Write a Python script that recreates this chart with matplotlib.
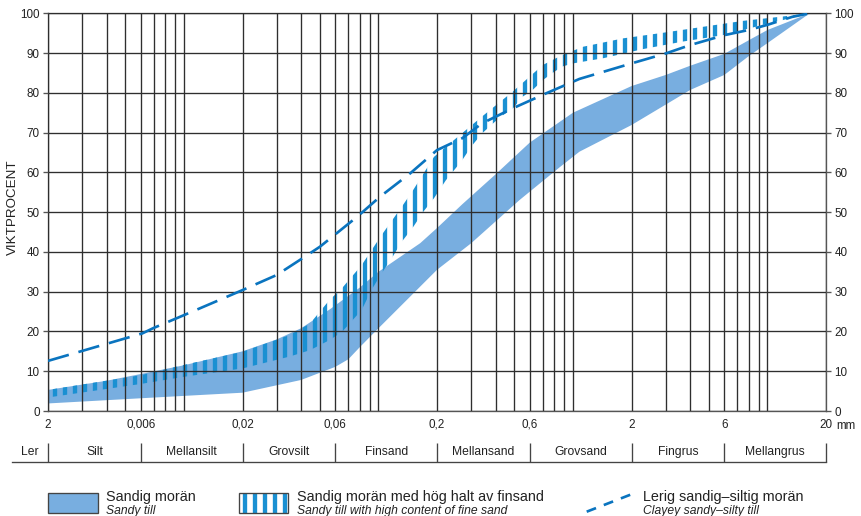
import numpy as np
import matplotlib
matplotlib.use('Agg')
import matplotlib.pyplot as plt
from matplotlib.patches import Rectangle
from matplotlib.lines import Line2D
from matplotlib.ticker import NullFormatter

# ---------------- data (grain size in mm, cumulative weight %) ----------------
sandy_upper_d = [0.002, 0.004, 0.006, 0.01, 0.02, 0.03, 0.04, 0.056, 0.08, 0.1, 0.164, 0.2, 0.27,
                 0.4, 0.6, 1.0, 2, 3, 4, 6, 8, 10, 16.5]
sandy_upper_pct = [5.3, 7.6, 9.3, 11.5, 15, 18, 20.8, 25.5, 31, 35, 42.2, 46, 52,
                   59.5, 67.5, 75, 81.7, 84.5, 86.8, 89.8, 93.2, 95.8, 100]
sandy_lower_d = [0.002, 0.006, 0.01, 0.02, 0.04, 0.06, 0.07, 0.08, 0.1, 0.2, 0.3, 0.53, 0.86,
                 1.08, 2, 4, 6, 8, 10, 16.5]
sandy_lower_pct = [1.9, 3.2, 3.8, 4.6, 7.8, 11.1, 13, 16, 20.8, 35.5, 42.2, 53, 61.4,
                   65.2, 71.9, 80.7, 84.5, 89.2, 92.5, 100]

fine_upper_d = [0.002, 0.006, 0.01, 0.02, 0.035, 0.0445, 0.056, 0.065, 0.082, 0.104, 0.132, 0.151,
                0.193, 0.27, 0.34, 0.49, 0.70, 0.88, 1.13, 1.81, 2.9, 4.66, 7.49, 12, 16.5]
fine_upper_pct = [5.3, 9.0, 11.6, 14.9, 19.1, 22, 27.9, 30.9, 36.7, 44.3, 51.4, 55.6,
                  63.9, 69.9, 74, 80.3, 87, 89.5, 91.6, 93.7, 95.1, 96.6, 98.1, 99.2, 100]
fine_lower_d = [0.002, 0.006, 0.01, 0.02, 0.035, 0.0445, 0.0564, 0.065, 0.082, 0.092, 0.104, 0.117,
                0.132, 0.151, 0.17, 0.193, 0.222, 0.269, 0.30, 0.341, 0.38, 0.425, 0.49, 0.55,
                0.62, 0.70, 0.78, 0.88, 1.0, 1.43, 2.29, 3.68, 5.9, 9.5, 12, 16.5]
fine_lower_pct = [3.4, 6.8, 8.6, 10.7, 13.7, 15.3, 17.9, 19.9, 25.4, 30.4, 34.7, 38.4,
                  42.6, 46.3, 50.1, 53.5, 58, 63, 66.5, 69.8, 71.9, 74, 76, 79,
                  80.7, 83.2, 84.9, 86.6, 87.4, 88.7, 91, 92.9, 94.5, 97.1, 98.3, 100]

clayey_d = [0.002, 0.0061, 0.007, 0.01, 0.02, 0.03, 0.0395, 0.05, 0.078, 0.102, 0.146, 0.2, 0.27,
            0.34, 0.49, 0.73, 1.08, 2, 3, 4, 6, 8, 10, 13.4, 16.5]
clayey_pct = [12.6, 19.5, 20.9, 24.1, 30.4, 34.2, 38, 41.3, 48.9, 53.9, 59.8, 65.6, 68.6,
              72.3, 76.1, 79.9, 83.5, 87.4, 89.9, 92, 94.5, 95.8, 97.1, 99.1, 100]

xtick_values = [0.002, 0.006, 0.02, 0.06, 0.2, 0.6, 2, 6, 20]
xtick_labels = ['2', '0,006', '0,02', '0,06', '0,2', '0,6', '2', '6', '20']
ytick_values = list(range(0, 101, 10))

frac_bounds = [0.0013, 0.002, 0.006, 0.02, 0.06, 0.2, 0.6, 2, 6, 20]
frac_names = ['Ler', 'Silt', 'Mellansilt', 'Grovsilt', 'Finsand', 'Mellansand',
              'Grovsand', 'Fingrus', 'Mellangrus']

legend_titles = ['Sandig morän', 'Sandig morän med hög halt av finsand', 'Lerig sandig–siltig morän']
legend_subtitles = ['Sandy till', 'Sandy till with high content of fine sand', 'Clayey sandy–silty till']

# ---------------- style ----------------
SOLID = '#78aee0'
STRIPE = '#1a90d2'
DASH = '#0a74bf'
GRID = '#2e2e2e'
SPINE = '#555555'
TXT = '#222222'

plt.rcParams['font.family'] = ['Liberation Sans', 'DejaVu Sans']
plt.rcParams['hatch.linewidth'] = 2.6
plt.rcParams['lines.scale_dashes'] = False

DPI = 120
W, H = 861, 516
fig = plt.figure(figsize=(W / DPI, H / DPI), dpi=DPI)
ax = fig.add_axes([48 / W, (H - 411) / H, (826 - 48) / W, (411 - 13.3) / H])
ax.set_xscale('log')

# solid band
sx = np.r_[np.array(sandy_upper_d), np.array(sandy_lower_d)[::-1]]
sy = np.r_[np.array(sandy_upper_pct), np.array(sandy_lower_pct)[::-1]]
ax.fill(sx, sy, facecolor=SOLID, edgecolor='none', lw=0, zorder=1)

# striped band
fx = np.r_[np.array(fine_upper_d), np.array(fine_lower_d)[::-1]]
fy = np.r_[np.array(fine_upper_pct), np.array(fine_lower_pct)[::-1]]
ax.fill(fx, fy, facecolor='none', edgecolor=STRIPE, hatch='||', lw=0, zorder=1.2)

# dashed curve
ax.plot(clayey_d, clayey_pct, color=DASH, lw=1.6, dashes=(13, 6), zorder=3,
        solid_capstyle='butt', dash_capstyle='butt')

ax.set_xlim(0.002, 20)
ax.set_ylim(0, 100)

minor = []
for e in range(-3, 2):
    for k in range(1, 10):
        v = k * 10.0 ** e
        if 0.002 <= v <= 10 and not any(np.isclose(v, m) for m in xtick_values):
            minor.append(v)
ax.set_xticks(xtick_values)
ax.set_xticklabels(xtick_labels)
ax.set_xticks(minor, minor=True)
ax.xaxis.set_minor_formatter(NullFormatter())
ax.set_yticks(ytick_values)

ax.set_axisbelow(False)
ax.grid(True, which='both', axis='x', color=GRID, lw=0.8)
ax.grid(True, which='major', axis='y', color=GRID, lw=0.8)
ax.tick_params(axis='x', which='both', length=0, pad=4.5, labelsize=7, colors=TXT)
ax.tick_params(axis='y', length=2.8, width=0.8, color=SPINE, labelsize=7, pad=2.2,
               left=True, right=True, labelleft=True, labelright=True, labelcolor=TXT)
for s in ax.spines.values():
    s.set_color(SPINE)
    s.set_linewidth(0.8)

ax.annotate('mm', xy=(20, 0), xycoords=ax.get_xaxis_transform(), xytext=(10, -18.3),
            textcoords='offset pixels', ha='left', va='baseline', fontsize=7, color=TXT)

# fraction bar
xt = ax.get_xaxis_transform()
ax.plot([frac_bounds[0], frac_bounds[-1]], [-0.1275, -0.1275], transform=xt, clip_on=False,
        color='#444444', lw=0.8)
ax.vlines(frac_bounds[1:], -0.1275, -0.0797, transform=xt, clip_on=False, color='#444444', lw=0.8)
for i, name in enumerate(frac_names):
    xc = np.sqrt(frac_bounds[i] * frac_bounds[i + 1])
    ax.text(xc, -0.104, name, transform=xt, ha='center', va='center', fontsize=7.3, color=TXT)

ax.set_xlim(0.002, 20)
ax.set_ylim(0, 100)

fig.text(12.5 / W, 1 - 207.5 / H, 'VIKTPROCENT', rotation=90, ha='center', va='center',
         fontsize=8, color=TXT)

# legend
ytop, ybot = 492.7, 512.7
fig.add_artist(Rectangle((48 / W, 1 - ybot / H), 50 / W, (ybot - ytop) / H, transform=fig.transFigure,
                         facecolor=SOLID, edgecolor='#444444', lw=0.8))
fig.add_artist(Rectangle((239 / W, 1 - ybot / H), 49 / W, (ybot - ytop) / H, transform=fig.transFigure,
                         facecolor='white', edgecolor=STRIPE, hatch='||', lw=0))
fig.add_artist(Rectangle((239 / W, 1 - ybot / H), 49 / W, (ybot - ytop) / H, transform=fig.transFigure,
                         facecolor='none', edgecolor='#444444', lw=0.8))
fig.add_artist(Line2D([586.7 / W, 634 / W], [1 - 511.7 / H, 1 - 493.3 / H], transform=fig.transFigure,
                      color=DASH, lw=1.6, dashes=(6, 5)))

for xpos, t1, t2 in zip([106, 297, 643], legend_titles, legend_subtitles):
    fig.text(xpos / W, 1 - 500.8 / H, t1, ha='left', va='baseline', fontsize=8.6, color=TXT)
    fig.text(xpos / W, 1 - 513.8 / H, t2, ha='left', va='baseline', fontsize=7.3, style='italic',
             color=TXT)

fig.savefig('out.png', dpi=DPI)
